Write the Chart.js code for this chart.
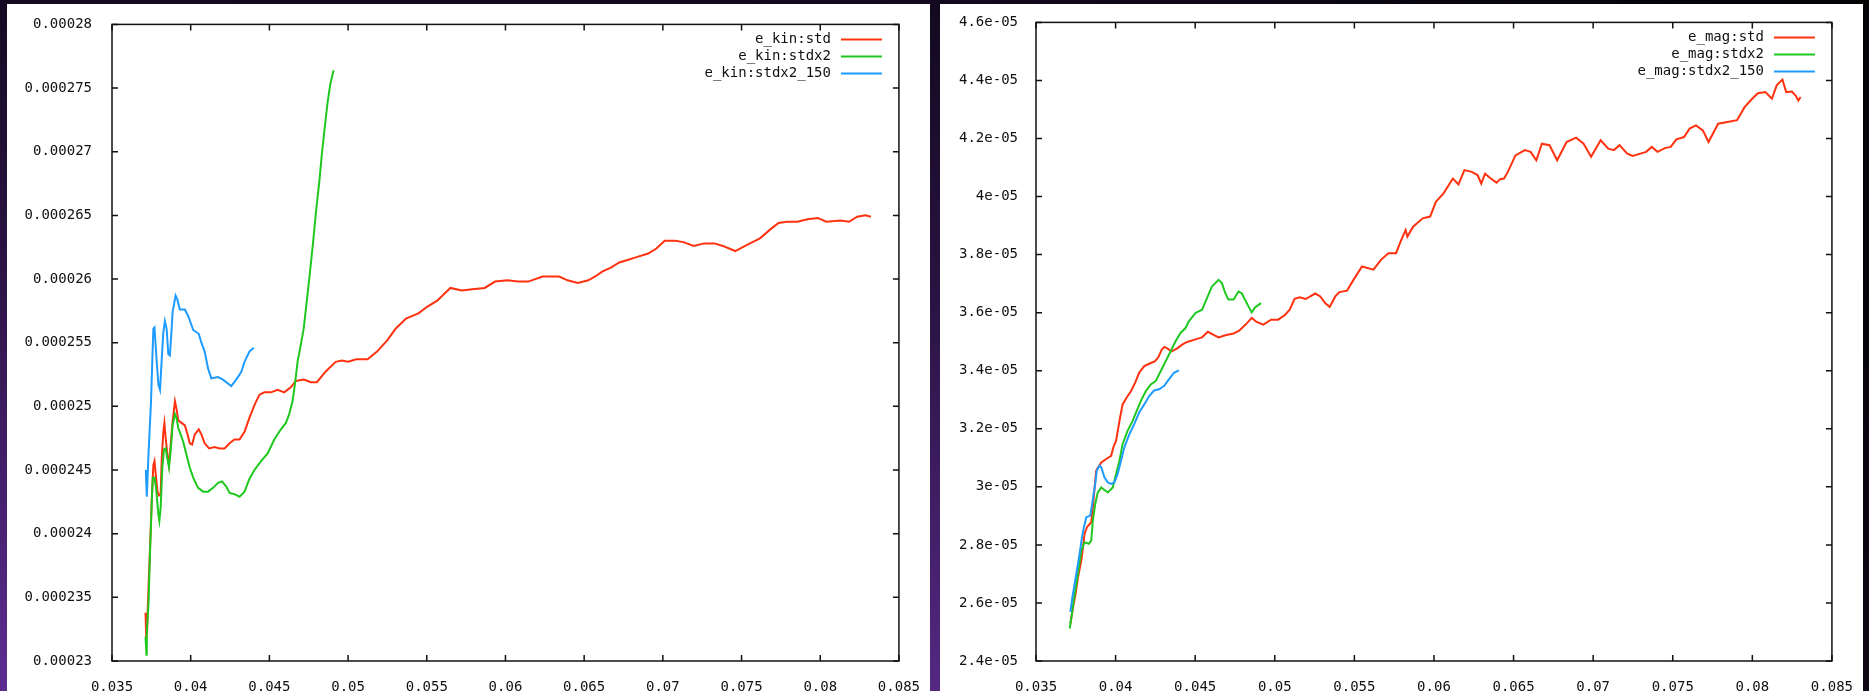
<!DOCTYPE html>
<html><head><meta charset="utf-8">
<script src="https://cdn.jsdelivr.net/npm/chart.js@4.4.1/dist/chart.umd.min.js"></script>
<style>
html,body{margin:0;padding:0;width:1869px;height:691px;overflow:hidden;}
body{background:
 linear-gradient(to right, rgba(0,0,0,0) 0%, rgba(0,0,0,0.1) 50%, rgba(0,0,0,0.85) 100%),
 linear-gradient(to bottom, #140a22 0%, #2c1446 40%, #5e2c92 100%);}
.panel{position:absolute;top:4px;width:923px;height:687px;background:#fff;}
canvas{display:block;}
</style></head><body>
<div class="panel" style="left:7px"><canvas id="kin" width="923" height="687"></canvas></div>
<div class="panel" style="left:940px"><canvas id="mag" width="923" height="687"></canvas></div>
<script>
// ---------- shared x axis ----------
const xTicks = [0.035,0.04,0.045,0.05,0.055,0.06,0.065,0.07,0.075,0.08,0.085];
const xTickLabels = ['0.035','0.04','0.045','0.05','0.055','0.06','0.065','0.07','0.075','0.08','0.085'];

// ---------- left panel: e_kin ----------
const kinYTicks = [0.00023,0.000235,0.00024,0.000245,0.00025,0.000255,0.00026,0.000265,0.00027,0.000275,0.00028];
const kinYTickLabels = ['0.00023','0.000235','0.00024','0.000245','0.00025','0.000255','0.00026','0.000265','0.00027','0.000275','0.00028'];

const kinStdX = [0.03713,0.03718,0.03723,0.03729,0.03742,0.03753,0.03763,0.03770,0.03780,0.03789,0.03799,0.03809,0.03816,0.03826,0.03833,0.03841,0.03852,0.03862,0.03874,0.03885,0.03900,0.03910,0.03921,0.03942,0.03963,0.03980,0.03994,0.04009,0.04026,0.04051,0.04068,0.04089,0.04117,0.04152,0.04184,0.04215,0.04247,0.04278,0.04310,0.04342,0.04373,0.04405,0.04436,0.04468,0.04510,0.04552,0.04594,0.04636,0.04668,0.04720,0.04763,0.04802,0.04855,0.04921,0.04960,0.05000,0.05052,0.05124,0.05184,0.05250,0.05302,0.05368,0.05447,0.05500,0.05566,0.05650,0.05723,0.05789,0.05868,0.05934,0.06013,0.06078,0.06144,0.06236,0.06342,0.06394,0.06460,0.06526,0.06570,0.06617,0.06670,0.06723,0.06775,0.06828,0.06907,0.06959,0.07012,0.07078,0.07131,0.07196,0.07262,0.07328,0.07381,0.07460,0.07538,0.07617,0.07683,0.07735,0.07788,0.07854,0.07920,0.07985,0.08038,0.08130,0.08183,0.08235,0.08288,0.08322];
const kinStdY = [0.0002338,0.0002316,0.0002324,0.0002348,0.0002390,0.0002428,0.0002454,0.0002457,0.0002444,0.0002433,0.0002430,0.0002431,0.0002459,0.0002480,0.0002487,0.0002475,0.0002462,0.0002454,0.0002472,0.0002488,0.0002504,0.0002498,0.0002489,0.0002487,0.0002485,0.0002478,0.0002471,0.0002470,0.0002478,0.0002482,0.0002478,0.0002471,0.0002467,0.0002468,0.0002467,0.0002467,0.0002471,0.0002474,0.0002474,0.0002480,0.0002491,0.0002501,0.0002509,0.0002511,0.0002511,0.0002513,0.0002511,0.0002515,0.0002520,0.0002521,0.0002519,0.0002519,0.0002527,0.0002535,0.0002536,0.0002535,0.0002537,0.0002537,0.0002543,0.0002552,0.0002561,0.0002569,0.0002573,0.0002578,0.0002583,0.0002593,0.0002591,0.0002592,0.0002593,0.0002598,0.0002599,0.0002598,0.0002598,0.0002602,0.0002602,0.0002599,0.0002597,0.0002599,0.0002602,0.0002606,0.0002609,0.0002613,0.0002615,0.0002617,0.0002620,0.0002624,0.0002630,0.0002630,0.0002629,0.0002626,0.0002628,0.0002628,0.0002626,0.0002622,0.0002627,0.0002632,0.0002639,0.0002644,0.0002645,0.0002645,0.0002647,0.0002648,0.0002645,0.0002646,0.0002645,0.0002649,0.0002650,0.0002649];

const kinStdx2X = [0.03713,0.03719,0.03721,0.03732,0.03742,0.03753,0.03759,0.03770,0.03780,0.03795,0.03801,0.03809,0.03820,0.03830,0.03841,0.03852,0.03862,0.03874,0.03885,0.03900,0.03910,0.03921,0.03936,0.03953,0.03973,0.03994,0.04016,0.04047,0.04079,0.04110,0.04142,0.04174,0.04199,0.04226,0.04247,0.04278,0.04310,0.04342,0.04373,0.04405,0.04447,0.04489,0.04531,0.04573,0.04605,0.04626,0.04647,0.04662,0.04679,0.04696,0.04718,0.04737,0.04755,0.04777,0.04797,0.04816,0.04834,0.04850,0.04869,0.04887,0.04908];
const kinStdx2Y = [0.0002319,0.0002305,0.0002322,0.0002345,0.0002387,0.0002426,0.0002444,0.0002444,0.0002436,0.0002415,0.0002410,0.0002420,0.0002452,0.0002466,0.0002467,0.0002459,0.0002452,0.0002467,0.0002485,0.0002494,0.0002491,0.0002483,0.0002478,0.0002472,0.0002462,0.0002452,0.0002444,0.0002436,0.0002433,0.0002433,0.0002436,0.0002440,0.0002441,0.0002437,0.0002432,0.0002431,0.0002429,0.0002433,0.0002443,0.0002450,0.0002457,0.0002463,0.0002474,0.0002482,0.0002487,0.0002494,0.0002504,0.0002517,0.0002535,0.0002546,0.0002561,0.0002582,0.0002602,0.0002628,0.0002654,0.0002675,0.0002699,0.0002717,0.0002738,0.0002753,0.0002764];

const kinStdx2_150X = [0.03715,0.03721,0.03732,0.03748,0.03757,0.03763,0.03770,0.03784,0.03795,0.03805,0.03816,0.03826,0.03836,0.03847,0.03858,0.03868,0.03879,0.03885,0.03904,0.03915,0.03931,0.03963,0.03984,0.04016,0.04051,0.04068,0.04089,0.04110,0.04131,0.04174,0.04205,0.04258,0.04289,0.04321,0.04342,0.04373,0.04401];
const kinStdx2_150Y = [0.0002450,0.0002429,0.0002463,0.0002504,0.0002540,0.0002561,0.0002562,0.0002535,0.0002517,0.0002513,0.0002537,0.0002558,0.0002567,0.0002561,0.0002541,0.0002540,0.0002561,0.0002574,0.0002587,0.0002584,0.0002576,0.0002576,0.0002571,0.0002560,0.0002557,0.0002550,0.0002543,0.0002530,0.0002522,0.0002523,0.0002521,0.0002516,0.0002521,0.0002527,0.0002535,0.0002543,0.0002546];

// ---------- right panel: e_mag ----------
const magYTicks = [2.4e-5,2.6e-5,2.8e-5,3.0e-5,3.2e-5,3.4e-5,3.6e-5,3.8e-5,4.0e-5,4.2e-5,4.4e-5,4.6e-5];
const magYTickLabels = ['2.4e-05','2.6e-05','2.8e-05','3e-05','3.2e-05','3.4e-05','3.6e-05','3.8e-05','4e-05','4.2e-05','4.4e-05','4.6e-05'];

const magStdX = [0.03716,0.03733,0.03749,0.03764,0.03785,0.03805,0.03820,0.03847,0.03863,0.03878,0.03910,0.03941,0.03972,0.03986,0.04003,0.04017,0.04028,0.04044,0.04069,0.04097,0.04123,0.04148,0.04180,0.04211,0.04248,0.04269,0.04290,0.04306,0.04325,0.04352,0.04387,0.04418,0.04449,0.04502,0.04543,0.04580,0.04610,0.04647,0.04689,0.04741,0.04776,0.04817,0.04855,0.04886,0.04928,0.04977,0.05021,0.05062,0.05094,0.05124,0.05156,0.05194,0.05254,0.05286,0.05316,0.05345,0.05380,0.05406,0.05454,0.05501,0.05548,0.05620,0.05667,0.05714,0.05762,0.05790,0.05822,0.05833,0.05869,0.05929,0.05976,0.06012,0.06060,0.06119,0.06154,0.06191,0.06238,0.06274,0.06297,0.06321,0.06357,0.06393,0.06416,0.06440,0.06464,0.06512,0.06571,0.06607,0.06643,0.06678,0.06726,0.06774,0.06833,0.06893,0.06940,0.06987,0.07047,0.07095,0.07130,0.07166,0.07214,0.07249,0.07297,0.07333,0.07368,0.07404,0.07451,0.07487,0.07523,0.07571,0.07606,0.07646,0.07689,0.07725,0.07785,0.07844,0.07904,0.07951,0.07999,0.08035,0.08082,0.08123,0.08153,0.08189,0.08213,0.08248,0.08272,0.08289,0.08303];
const magStdY = [2.529e-5,2.586e-5,2.632e-5,2.689e-5,2.747e-5,2.838e-5,2.861e-5,2.878e-5,2.964e-5,3.056e-5,3.084e-5,3.096e-5,3.107e-5,3.136e-5,3.159e-5,3.204e-5,3.238e-5,3.284e-5,3.307e-5,3.330e-5,3.359e-5,3.393e-5,3.416e-5,3.424e-5,3.433e-5,3.447e-5,3.473e-5,3.482e-5,3.477e-5,3.467e-5,3.477e-5,3.490e-5,3.499e-5,3.508e-5,3.515e-5,3.534e-5,3.525e-5,3.515e-5,3.522e-5,3.528e-5,3.538e-5,3.559e-5,3.582e-5,3.568e-5,3.559e-5,3.576e-5,3.576e-5,3.591e-5,3.610e-5,3.648e-5,3.653e-5,3.647e-5,3.666e-5,3.656e-5,3.633e-5,3.620e-5,3.656e-5,3.671e-5,3.676e-5,3.719e-5,3.759e-5,3.748e-5,3.782e-5,3.805e-5,3.805e-5,3.845e-5,3.885e-5,3.862e-5,3.896e-5,3.925e-5,3.931e-5,3.982e-5,4.011e-5,4.062e-5,4.042e-5,4.091e-5,4.085e-5,4.074e-5,4.045e-5,4.079e-5,4.062e-5,4.048e-5,4.060e-5,4.062e-5,4.085e-5,4.142e-5,4.160e-5,4.154e-5,4.125e-5,4.182e-5,4.177e-5,4.125e-5,4.188e-5,4.203e-5,4.182e-5,4.137e-5,4.194e-5,4.165e-5,4.160e-5,4.177e-5,4.148e-5,4.140e-5,4.148e-5,4.154e-5,4.171e-5,4.154e-5,4.167e-5,4.171e-5,4.197e-5,4.205e-5,4.234e-5,4.245e-5,4.228e-5,4.188e-5,4.251e-5,4.257e-5,4.263e-5,4.308e-5,4.337e-5,4.356e-5,4.360e-5,4.337e-5,4.383e-5,4.403e-5,4.360e-5,4.362e-5,4.348e-5,4.331e-5,4.343e-5];

const magStdx2X = [0.03712,0.03723,0.03737,0.03754,0.03770,0.03785,0.03805,0.03832,0.03847,0.03857,0.03872,0.03888,0.03910,0.03930,0.03951,0.03982,0.04003,0.04024,0.04044,0.04075,0.04107,0.04132,0.04159,0.04190,0.04221,0.04252,0.04284,0.04315,0.04346,0.04377,0.04408,0.04439,0.04460,0.04502,0.04543,0.04574,0.04605,0.04647,0.04668,0.04689,0.04709,0.04741,0.04772,0.04792,0.04824,0.04855,0.04876,0.04913];
const magStdx2Y = [2.512e-5,2.552e-5,2.609e-5,2.667e-5,2.724e-5,2.781e-5,2.809e-5,2.804e-5,2.815e-5,2.884e-5,2.941e-5,2.981e-5,2.998e-5,2.989e-5,2.981e-5,2.998e-5,3.044e-5,3.090e-5,3.147e-5,3.193e-5,3.227e-5,3.261e-5,3.296e-5,3.330e-5,3.353e-5,3.364e-5,3.399e-5,3.433e-5,3.467e-5,3.502e-5,3.530e-5,3.547e-5,3.570e-5,3.599e-5,3.610e-5,3.650e-5,3.690e-5,3.713e-5,3.702e-5,3.667e-5,3.645e-5,3.645e-5,3.673e-5,3.667e-5,3.633e-5,3.601e-5,3.618e-5,3.633e-5];

const magStdx2_150X = [0.03716,0.03729,0.03743,0.03757,0.03774,0.03789,0.03801,0.03816,0.03841,0.03853,0.03862,0.03872,0.03882,0.03899,0.03910,0.03930,0.03951,0.03972,0.03992,0.04013,0.04034,0.04055,0.04086,0.04117,0.04148,0.04180,0.04211,0.04242,0.04273,0.04304,0.04335,0.04367,0.04398];
const magStdx2_150Y = [2.569e-5,2.621e-5,2.667e-5,2.712e-5,2.770e-5,2.827e-5,2.861e-5,2.895e-5,2.901e-5,2.941e-5,2.976e-5,3.010e-5,3.056e-5,3.073e-5,3.067e-5,3.033e-5,3.015e-5,3.010e-5,3.015e-5,3.044e-5,3.090e-5,3.136e-5,3.181e-5,3.216e-5,3.256e-5,3.284e-5,3.313e-5,3.332e-5,3.336e-5,3.347e-5,3.370e-5,3.393e-5,3.401e-5];

// ---------- styling ----------
const RED = '#ff3210', GREEN = '#1ec81e', BLUE = '#1e9bff';
const FONT = {family: '"DejaVu Sans Mono", monospace', size: 14};

function zip(xs, ys) {
  const n = Math.min(xs.length, ys.length), out = [];
  for (let i = 0; i < n; i++) out.push({x: xs[i], y: ys[i]});
  return out;
}

const framePlugin = {
  id: 'gnuframe',
  afterDatasetsDraw(chart) {
    const {ctx, chartArea: a, scales: {x, y}} = chart;
    ctx.save();
    ctx.strokeStyle = '#111'; ctx.lineWidth = 1.5;
    ctx.strokeRect(a.left, a.top, a.right - a.left, a.bottom - a.top);
    const L = 6;
    ctx.beginPath();
    x.ticks.forEach(t => { const p = x.getPixelForValue(t.value);
      ctx.moveTo(p, a.bottom); ctx.lineTo(p, a.bottom - L);
      ctx.moveTo(p, a.top); ctx.lineTo(p, a.top + L); });
    y.ticks.forEach(t => { const p = y.getPixelForValue(t.value);
      ctx.moveTo(a.left, p); ctx.lineTo(a.left + L, p);
      ctx.moveTo(a.right, p); ctx.lineTo(a.right - L, p); });
    ctx.stroke();
    ctx.font = '14px "DejaVu Sans Mono", monospace';
    ctx.textAlign = 'right'; ctx.textBaseline = 'middle'; ctx.fillStyle = '#111';
    chart.data.datasets.forEach((ds, i) => {
      const yy = a.top + 15 + i * 17;
      ctx.fillText(ds.label, a.right - 68, yy);
      ctx.strokeStyle = ds.borderColor; ctx.lineWidth = 2;
      ctx.beginPath(); ctx.moveTo(a.right - 58, yy); ctx.lineTo(a.right - 17, yy); ctx.stroke();
    });
    ctx.restore();
  }
};

function makeChart(id, series, yTicks, yLabels, yMin, yMax, yWidth, yPad) {
  return new Chart(document.getElementById(id), {
    type: 'line',
    data: {datasets: series.map((s, i) => ({
      label: s.label, data: zip(s.x, s.y), borderColor: s.color, backgroundColor: s.color,
      borderWidth: 2, pointRadius: 0, fill: false, tension: 0, order: 3 - i
    }))},
    options: {
      responsive: false, animation: false, devicePixelRatio: 1,
      layout: {padding: {top: 16, right: 25, left: 0, bottom: 0}},
      plugins: {legend: {display: false}, tooltip: {enabled: false}},
      scales: {
        x: {type: 'linear', min: 0.035, max: 0.085,
            grid: {display: false}, border: {display: false},
            afterBuildTicks: s => { s.ticks = xTicks.map(v => ({value: v})); },
            afterFit: s => { s.height = 30; },
            ticks: {autoSkip: false, maxRotation: 0, padding: 10, font: FONT, color: '#111',
                    callback: (v, i) => xTickLabels[i]}},
        y: {type: 'linear', min: yMin, max: yMax,
            grid: {display: false}, border: {display: false},
            afterBuildTicks: s => { s.ticks = yTicks.map(v => ({value: v})); },
            afterFit: s => { s.width = yWidth; },
            ticks: {autoSkip: false, padding: yPad, font: FONT, color: '#111',
                    callback: (v, i) => yLabels[i]}}
      }
    },
    plugins: [framePlugin]
  });
}

makeChart('kin', [
  {label: 'e_kin:std', x: kinStdX, y: kinStdY, color: RED},
  {label: 'e_kin:stdx2', x: kinStdx2X, y: kinStdx2Y, color: GREEN},
  {label: 'e_kin:stdx2_150', x: kinStdx2_150X, y: kinStdx2_150Y, color: BLUE}
], kinYTicks, kinYTickLabels, 0.00023, 0.00028, 105, 12);

makeChart('mag', [
  {label: 'e_mag:std', x: magStdX, y: magStdY, color: RED},
  {label: 'e_mag:stdx2', x: magStdx2X, y: magStdx2Y, color: GREEN},
  {label: 'e_mag:stdx2_150', x: magStdx2_150X, y: magStdx2_150Y, color: BLUE}
], magYTicks, magYTickLabels, 2.4e-5, 4.6e-5, 96, 10);
</script>
</body></html>
